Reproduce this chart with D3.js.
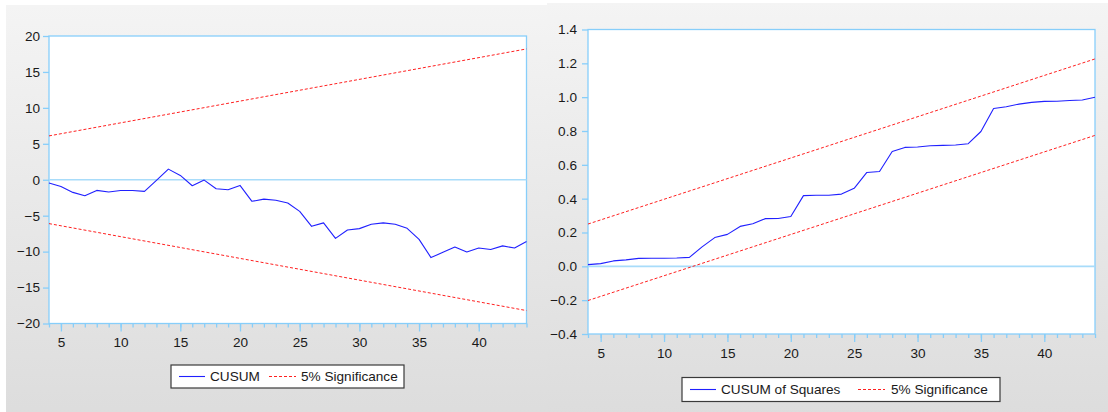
<!DOCTYPE html>
<html><head><meta charset="utf-8">
<script src="https://cdn.jsdelivr.net/npm/d3@7"></script>
<style>
body{margin:0;background:#fff;}
svg{display:block;font-family:"Liberation Sans",Arial,sans-serif;}
</style></head><body>
<svg id="c" width="1108" height="412"></svg>
<script>
// ---- data ----
const periods = d3.range(4, 45);
const cusum = [-0.46,-0.93,-1.76,-2.22,-1.48,-1.7,-1.5,-1.5,-1.62,-0.1,1.48,0.6,-0.83,-0.05,-1.25,-1.39,-0.79,-3.0,-2.7,-2.85,-3.24,-4.4,-6.48,-6.0,-8.15,-7.0,-6.8,-6.2,-6.0,-6.2,-6.76,-8.3,-10.83,-10.1,-9.35,-10.05,-9.5,-9.7,-9.2,-9.5,-8.6];
const cusumBoundT = [4, 44];
const cusumUpper = [6.1, 18.2];
const cusumLower = [-6.1, -18.2];
const cusumSq = [0.01,0.016,0.032,0.038,0.047,0.048,0.048,0.049,0.053,0.115,0.17,0.189,0.236,0.252,0.282,0.283,0.295,0.418,0.42,0.42,0.427,0.461,0.555,0.561,0.679,0.703,0.705,0.713,0.715,0.717,0.725,0.797,0.933,0.943,0.959,0.969,0.975,0.976,0.98,0.983,1.0];
const sqBoundT = [4, 44];
const sqUpper = [0.25, 1.226];
const sqLower = [-0.202, 0.774];
const xMajorTicks = [5,10,15,20,25,30,35,40];
const xMinorTicks = d3.range(4, 45);
const leftYTicks = [-20,-15,-10,-5,0,5,10,15,20];
const rightYTicks = [-0.4,-0.2,0.0,0.2,0.4,0.6,0.8,1.0,1.2,1.4];

const svg = d3.select("#c");
const defs = svg.append("defs");
const g1 = defs.append("linearGradient").attr("id","bg").attr("x1",0).attr("y1",0).attr("x2",0).attr("y2",1);
g1.append("stop").attr("offset","0%").attr("stop-color","#f4f4f4");
g1.append("stop").attr("offset","100%").attr("stop-color","#dcdcdc");

svg.append("rect").attr("x",6).attr("y",5).attr("width",541).attr("height",420).attr("fill","url(#bg)");
svg.append("rect").attr("x",547).attr("y",3).attr("width",561).attr("height",420).attr("fill","url(#bg)");

const AX = "#87cefa";

function chart(o){
  const x = d3.scaleLinear().domain([4,44]).range([o.l, o.r]);
  const y = d3.scaleLinear().domain(o.yDom).range([o.b, o.t]);
  const g = svg.append("g");
  g.append("rect").attr("x",o.l).attr("y",o.t).attr("width",o.r-o.l).attr("height",o.b-o.t)
    .attr("fill","#fff").attr("stroke",AX).attr("stroke-width",1.3);
  g.append("line").attr("x1",o.l).attr("x2",o.r).attr("y1",y(0)).attr("y2",y(0))
    .attr("stroke","#a8dcfa").attr("stroke-width",1.6);
  const minor = g.append("g").attr("transform",`translate(0,${o.b})`)
    .call(d3.axisBottom(x).tickValues(xMinorTicks).tickSize(4).tickFormat(""));
  const major = g.append("g").attr("transform",`translate(0,${o.b})`)
    .call(d3.axisBottom(x).tickValues(xMajorTicks).tickSize(8).tickPadding(5).tickFormat(d3.format("d")));
  const ya = g.append("g").attr("transform",`translate(${o.l},0)`)
    .call(d3.axisLeft(y).tickValues(o.yTicks).tickSize(6).tickPadding(o.ypad).tickFormat(o.yFmt));
  [minor,major,ya].forEach(a=>{
    a.select(".domain").remove();
    a.selectAll(".tick line").attr("stroke",AX).attr("stroke-width",1.3);
    a.selectAll(".tick text").attr("fill","#1a1a1a").style("font-size","13.6px").style("font-family","'Liberation Sans',Arial,sans-serif");
  });
  major.selectAll(".tick text").attr("dy","0.8em");
  const line = d3.line().x(d=>x(d[0])).y(d=>y(d[1]));
  const dash = "3,2";
  g.append("path").datum(o.bt.map((t,i)=>[t,o.up[i]])).attr("d",line)
    .attr("fill","none").attr("stroke","#ff2020").attr("stroke-width",1).attr("stroke-dasharray",dash);
  g.append("path").datum(o.bt.map((t,i)=>[t,o.lo[i]])).attr("d",line)
    .attr("fill","none").attr("stroke","#ff2020").attr("stroke-width",1).attr("stroke-dasharray",dash);
  g.append("path").datum(periods.map((t,i)=>[t,o.vals[i]])).attr("d",line)
    .attr("fill","none").attr("stroke","#2020ff").attr("stroke-width",1.1).attr("stroke-linejoin","round");
  const L = o.leg;
  const lg = svg.append("g");
  lg.append("rect").attr("x",L.x).attr("y",L.y).attr("width",L.w).attr("height",L.h)
    .attr("fill","#fff").attr("stroke","#3a3a3a").attr("stroke-width",1.2);
  const cy = L.y + L.h/2;
  lg.append("line").attr("x1",L.x+8).attr("x2",L.x+34).attr("y1",cy).attr("y2",cy).attr("stroke","#2020ff").attr("stroke-width",1.1);
  lg.append("text").attr("x",L.x+39).attr("y",cy+4.8).text(o.name).attr("fill","#1a1a1a").style("font-size","13.6px");
  lg.append("line").attr("x1",L.s2).attr("x2",L.s2+27).attr("y1",cy).attr("y2",cy).attr("stroke","#ff2020").attr("stroke-width",1).attr("stroke-dasharray",dash);
  lg.append("text").attr("x",L.s2+L.g2).attr("y",cy+4.8).text("5% Significance").attr("fill","#1a1a1a").style("font-size","13.6px");
}

chart({l:49,r:526.5,t:36,b:323.5,yDom:[-20,20],yTicks:leftYTicks,yFmt:d3.format("d"),ypad:3,
  vals:cusum,bt:cusumBoundT,up:cusumUpper,lo:cusumLower,name:"CUSUM",
  leg:{x:171,y:365,w:233,h:23,s2:269,g2:32}});
chart({l:588,r:1095,t:29.5,b:334,yDom:[-0.4,1.4],yTicks:rightYTicks,yFmt:d3.format(".1f"),ypad:5,
  vals:cusumSq,bt:sqBoundT,up:sqUpper,lo:sqLower,name:"CUSUM of Squares",
  leg:{x:682,y:377.5,w:318,h:24,s2:858,g2:33}});
</script>
</body></html>
